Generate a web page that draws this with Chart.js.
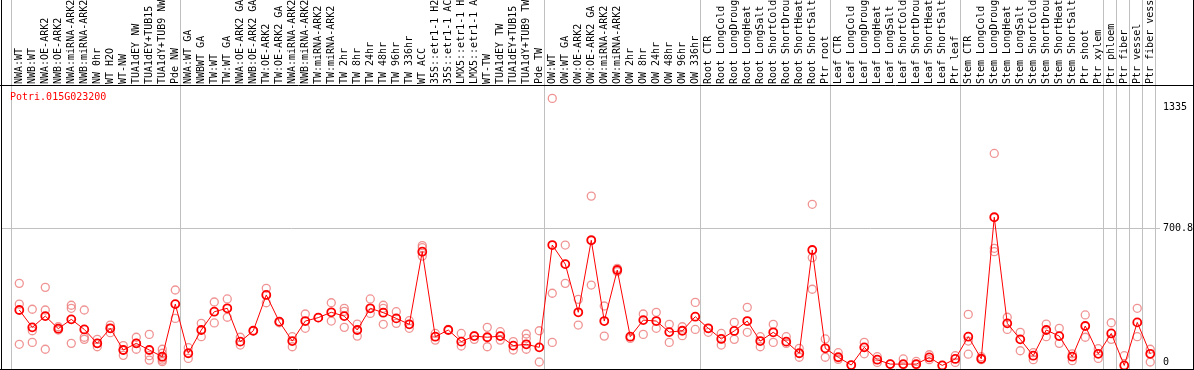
<!DOCTYPE html>
<html><head><meta charset="utf-8">
<script src="https://cdn.jsdelivr.net/npm/chart.js@4.4.1/dist/chart.umd.min.js"></script>
<style>html,body{margin:0;padding:0;background:#fff;}#wrap{width:1194px;height:370px;position:relative;}</style>
</head><body><div id="wrap"><canvas id="c" width="1194" height="370"></canvas></div>
<script>
const title = "Potri.015G023200";
const groupNW = ["NWA:WT","NWB:WT","NWA:OE-ARK2","NWB:OE-ARK2","NWA:miRNA-ARK2","NWB:miRNA-ARK2","NW 0hr","WT H2O","WT-NW","TUA1dEY NW","TUA1dEY+TUB15","TUA1dY+TUB9 NW","Pde NW"];
const groupTW = ["NWA:WT GA","NWBWT GA","TW:WT","TW:WT GA","NWA:OE-ARK2 GA","NWB:OE-ARK2 GA","TW:OE-ARK2","TW:OE-ARK2 GA","NWA:miRNA-ARK2","NWB:miRNA-ARK2","TW:miRNA-ARK2","TW:miRNA-ARK2","TW 2hr","TW 8hr","TW 24hr","TW 48hr","TW 96hr","TW 336hr","WT ACC","35S::etr1-1 H2","35S::etr1-1 AC","LMX5::etr1-1 H","LMX5::etr1-1 A","WT-TW","TUA1dEY TW","TUA1dEY+TUB15","TUA1dY+TUB9 TW","Pde TW"];
const groupOW = ["OW:WT","OW:WT GA","OW:OE-ARK2","OW:OE-ARK2 GA","OW:miRNA-ARK2","OW:miRNA-ARK2","OW 2hr","OW 8hr","OW 24hr","OW 48hr","OW 96hr","OW 336hr"];
const groupRoot = ["Root CTR","Root LongCold","Root LongDroug","Root LongHeat","Root LongSalt","Root ShortCold","Root ShortDrou","Root ShortHeat","Root ShortSalt","Ptr root"];
const groupLeaf = ["Leaf CTR","Leaf LongCold","Leaf LongDroug","Leaf LongHeat","Leaf LongSalt","Leaf ShortCold","Leaf ShortDrou","Leaf ShortHeat","Leaf ShortSalt","Ptr leaf"];
const groupStem = ["Stem CTR","Stem LongCold","Stem LongDroug","Stem LongHeat","Stem LongSalt","Stem ShortCold","Stem ShortDrou","Stem ShortHeat","Stem ShortSalt","Ptr shoot","Ptr xylem"];
const groupPhloem = ["Ptr phloem"];
const groupFiber = ["Ptr fiber"];
const groupVessel = ["Ptr vessel"];
const groupFiberVessel = ["Ptr fiber vess"];
const groups = [groupNW, groupTW, groupOW, groupRoot, groupLeaf, groupStem, groupPhloem, groupFiber, groupVessel, groupFiberVessel];
const categories = [].concat(...groups);

const means = [273,182,241,175,224,171,98,177,63,98,63,28,304,
  46,168,264,282,107,164,352,212,110,215,233,261,241,168,282,259,229,198,579,133,168,107,136,130,136,86,93,77,
  614,514,261,639,215,483,133,220,215,157,164,238,
  177,121,163,215,110,156,107,46,588,72,
  25,-16,77,12,-11,-11,-11,24,-18,16,
  133,17,760,203,119,33,168,136,28,189,43,
  150,-18,208,43];

const replicates = [[413,304,93],[277,164,103],[392,273,67],[185,168],[298,282,98],[273,130,119],[119,98,80],[194,177,154],[86,63,35],[130,98,67],[145,33,10],[67,46,20,10,2],[378,229],
  [75,19],[203,133],[315,205],[331,235],[130,89],[164],[387,311],[206,212],[133,80],[252,177],[233],[311,215],[282,266,182],[199,136],[331,255],[298,282,198],[264,203],[217,177],[611,600,556],[150,115],[171],[150,84],[139,119],[182,80],[159,115],[107,63],[147,124,67],[164,0],
  [1384,361,103],[614,413],[329,194],[871,642,404],[294,136],[492,474],[124],[252,145],[261,177],[198,103],[185,138],[313,171],
  [156,177],[150,89],[208,119],[287,156],[133,80],[198,103],[133,98],[72,25],[828,548,382],[121,25],
  [49,14],[-16],[103,43],[28,-2],[-11],[16,-14],[3,-14],[38,12],[-18],[33,-2],
  [250,110,41],[28,12],[1095,597,579],[235,171],[156,59],[49,12],[199,133],[177,98],[43,7],[247,130],[70,19],
  [206,119],[33],[282,133],[67,0]];

const yTicks = [0, 700.8, 1335];
const yGridValue = 700.8;

const groupStarts = [];
{ let s = 0; groups.forEach(g => { groupStarts.push(s); s += g.length; }); }

const FONT = '"DejaVu Sans Mono", "Liberation Mono", monospace';

const framePlugin = {
  id: 'frame',
  beforeDatasetsDraw(chart) {
    const ctx = chart.ctx, xs = chart.scales.x, a = chart.chartArea;
    ctx.save();
    ctx.strokeStyle = '#c0c0c0';
    ctx.lineWidth = 1;
    const xsPos = groupStarts.map(i => xs.getPixelForValue(i) - 8.5);
    xsPos.push(xs.getPixelForValue(categories.length - 1) + 4.5);
    xsPos.forEach(px => {
      const p = Math.round(px) + 0.5;
      ctx.beginPath(); ctx.moveTo(p, 0); ctx.lineTo(p, a.bottom); ctx.stroke();
    });
    ctx.restore();
  },
  afterDraw(chart) {
    const ctx = chart.ctx, a = chart.chartArea, w = chart.width, h = chart.height;
    ctx.save();
    ctx.strokeStyle = '#000';
    ctx.lineWidth = 1;
    ctx.beginPath();
    ctx.moveTo(1.5, 0); ctx.lineTo(1.5, h);
    ctx.moveTo(w - 0.5, 0); ctx.lineTo(w - 0.5, h);
    ctx.moveTo(0, a.top - 0.5); ctx.lineTo(w, a.top - 0.5);
    ctx.moveTo(0, a.bottom + 0.5); ctx.lineTo(w, a.bottom + 0.5);
    ctx.stroke();
    ctx.fillStyle = '#ff0000';
    ctx.font = '10px ' + FONT;
    ctx.textBaseline = 'middle';
    ctx.textAlign = 'left';
    ctx.fillText(title, 10, 97);
    ctx.restore();
  }
};

const meanData = means.map((v, i) => ({x: i, y: v}));
const repData = [];
replicates.forEach((arr, i) => arr.forEach(v => repData.push({x: i, y: v})));

const zeroPad = (s) => { s.paddingTop = 0; s.paddingBottom = 0; s.paddingLeft = 0; s.paddingRight = 0; };

new Chart(document.getElementById('c'), {
  type: 'line',
  data: {
    datasets: [
      {
        data: meanData,
        borderColor: '#ff0000',
        borderWidth: 1,
        pointStyle: 'circle',
        pointRadius: 4,
        pointBorderWidth: 1.8,
        pointBorderColor: '#ff0000',
        pointBackgroundColor: 'rgba(0,0,0,0)',
        tension: 0,
        fill: false
      },
      {
        data: repData,
        showLine: false,
        pointStyle: 'circle',
        pointRadius: 4,
        pointBorderWidth: 1.3,
        pointBorderColor: 'rgba(236,120,120,0.8)',
        pointBackgroundColor: 'rgba(0,0,0,0)'
      }
    ]
  },
  options: {
    responsive: false,
    animation: false,
    events: [],
    devicePixelRatio: 1,
    layout: { padding: { left: 2, top: 0, right: 0, bottom: 1 }, autoPadding: false },
    plugins: { legend: { display: false }, tooltip: { enabled: false }, title: { display: false } },
    scales: {
      x: {
        type: 'linear',
        position: 'top',
        min: -1.33,
        max: 87.75,
        grid: { display: false, drawTicks: false },
        border: { display: false },
        afterBuildTicks: (s) => { s.ticks = categories.map((_, i) => ({value: i})); },
        afterFit: (s) => { s.height = 86; zeroPad(s); },
        ticks: {
          autoSkip: false,
          minRotation: 90,
          maxRotation: 90,
          padding: 2,
          labelOffset: 12,
          color: '#000',
          font: { family: FONT, size: 10 },
          callback: (v, i) => categories[i]
        }
      },
      y: {
        type: 'linear',
        position: 'right',
        min: -36.7,
        max: 1449,
        grid: {
          drawTicks: false,
          color: (c) => (c.tick && c.tick.value === yGridValue) ? '#c0c0c0' : 'rgba(0,0,0,0)'
        },
        border: { display: false },
        afterBuildTicks: (s) => { s.ticks = yTicks.map(v => ({value: v})); },
        afterFit: (s) => { s.width = 34; zeroPad(s); },
        ticks: {
          padding: 3,
          color: '#000',
          font: { family: FONT, size: 10 },
          callback: (v) => String(v)
        }
      }
    }
  },
  plugins: [framePlugin]
});
</script>
</body></html>
